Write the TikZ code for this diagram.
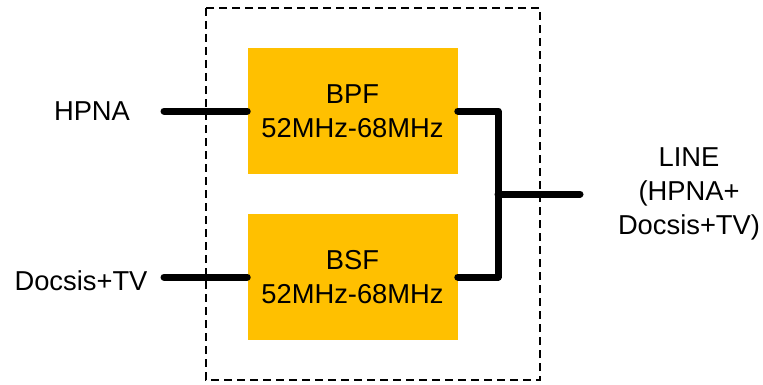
\documentclass[tikz,border=0pt]{standalone}
\usepackage{fontspec}
\setmainfont{Liberation Sans}
\definecolor{filterorange}{HTML}{FFC000}
\begin{document}
\begin{tikzpicture}[x=0.75pt, y=-0.75pt, font=\fontsize{20.5}{25.5}\selectfont]
        \tikzset{
            frame/.style={draw=black, dash pattern=on 6pt off 3.75pt, line width=1.1pt},
            wire/.style={draw=black, line width=5.25pt, line cap=round, line join=round},
            filterbox/.style={
                fill=filterorange,
                minimum width=157.5pt,
                minimum height=94.5pt,
                inner sep=0pt,
                align=center
            },
            portlabel/.style={inner sep=0pt, align=center}
        }
        \useasboundingbox (0,0) rectangle (763,385);

        \draw[frame] (206,8) rectangle (540,380);

        \node[filterbox] (bpf) at (352.5,111) {BPF\\52MHz-68MHz};
        \node[filterbox] (bsf) at (352.5,277) {BSF\\52MHz-68MHz};

        \coordinate (hpnain) at (164,111);
        \coordinate (docsisin) at (164,277);
        \coordinate (join) at (498,194);
        \coordinate (lineout) at (580,194);

        \node[portlabel] (hpna) at (92,111) {HPNA};
        \node[portlabel] (docsis) at (81,281) {Docsis+TV};
        \node[portlabel] (line) at (689,194) {LINE\\(HPNA+\\Docsis+TV)};

        \draw[wire] (hpnain) -- (bpf.west);
        \draw[wire] (docsisin) -- (bsf.west);
        \draw[wire] (bpf.east) -| (join) |- (bsf.east);
        \draw[wire] (join) -- (lineout);
    \end{tikzpicture}
\end{document}
